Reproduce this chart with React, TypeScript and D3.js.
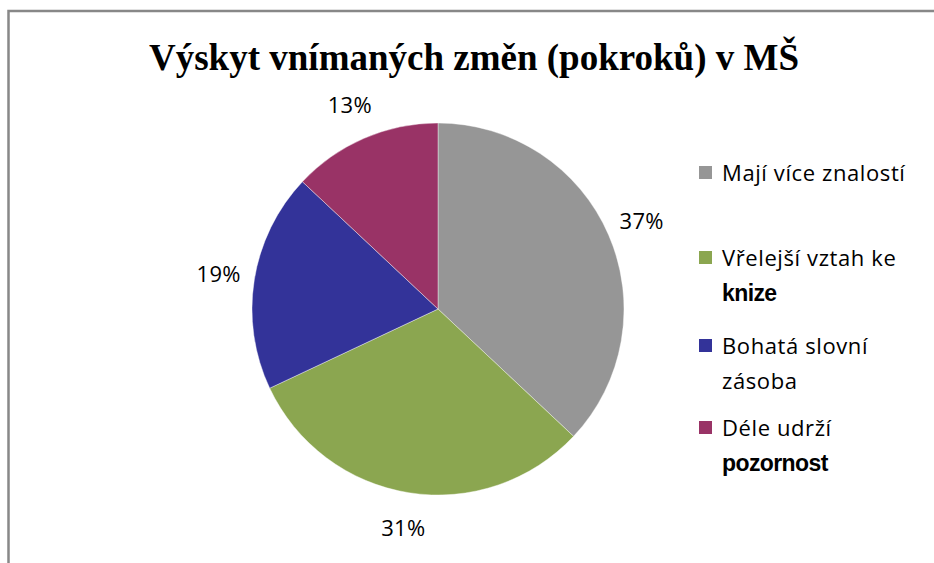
import React from "react";
import * as d3 from "d3";

// data
const categories = [
  "Mají více znalostí",
  "Vřelejší vztah ke knize",
  "Bohatá slovní zásoba",
  "Déle udrží pozornost",
];
const values = [37, 31, 19, 13];
const colors = ["#969696", "#8ba650", "#333399", "#993366"];
// how the legend wraps each category (second line is bold in the original)
const legendLines = [
  ["Mají více znalostí"],
  ["Vřelejší vztah ke", "knize"],
  ["Bohatá slovní", "zásoba"],
  ["Déle udrží", "pozornost"],
];
const boldSecondLine = [false, true, false, true];
const title = "Výskyt vnímaných změn (pokroků) v MŠ";

const width = 934;
const height = 563;

const App = () => {
  const cx = 438;
  const cy = 309;
  const radius = 186;

  const pie = d3
    .pie<number>()
    .value((d) => d)
    .sort(null);
  const slices = pie(values);

  const arc = d3.arc<d3.PieArcDatum<number>>().innerRadius(0).outerRadius(radius);
  const labelArc = d3
    .arc<d3.PieArcDatum<number>>()
    .innerRadius(222)
    .outerRadius(222);

  const total = d3.sum(values);
  const fmt = (v: number) => `${Math.round((v / total) * 100)}%`;

  const legendY = [181, 266, 354, 436]; // first-line baselines
  const lineGap = 35;

  return (
    <svg
      width={width}
      height={height}
      style={{ position: "absolute", left: 0, top: 0, background: "#fff" }}
    >
      <rect
        x={8.5}
        y={11}
        width={width + 20}
        height={height + 20}
        fill="#fff"
        stroke="#888"
        strokeWidth={2.5}
      />
      <text
        x={474}
        y={70}
        textAnchor="middle"
        fontFamily="'Liberation Serif', 'Times New Roman', serif"
        fontWeight="bold"
        fontSize={37}
        fill="#000"
      >
        {title}
      </text>

      <g transform={`translate(${cx},${cy})`}>
        {slices.map((s, i) => (
          <path
            key={categories[i]}
            d={arc(s) || ""}
            fill={colors[i]}
            stroke="#fff"
            strokeWidth={0.4}
          />
        ))}
        {slices.map((s, i) => {
          const [lx, ly] = labelArc.centroid(s);
          return (
            <text
              key={"l" + i}
              x={lx}
              y={ly}
              dy="0.35em"
              textAnchor="middle"
              fontFamily="'Open Sans', sans-serif"
              fontSize={22}
              letterSpacing={0.3}
              fill="#000"
            >
              {fmt(s.data)}
            </text>
          );
        })}
      </g>

      <g>
        {categories.map((c, i) => (
          <g key={c}>
            <rect
              x={699}
              y={legendY[i] - 15}
              width={13}
              height={13}
              fill={colors[i]}
            />
            {legendLines[i].map((line, j) => {
              const bold = j === 1 && boldSecondLine[i];
              return (
                <text
                  key={line}
                  x={722}
                  y={legendY[i] + j * lineGap}
                  fontFamily={
                    bold
                      ? "'Liberation Sans', Arial, sans-serif"
                      : "'Open Sans', sans-serif"
                  }
                  fontWeight={bold ? "bold" : "normal"}
                  fontSize={bold ? 23 : 22}
                  letterSpacing={bold ? -0.6 : 0.6}
                  fill="#000"
                >
                  {line}
                </text>
              );
            })}
          </g>
        ))}
      </g>
    </svg>
  );
};

export default App;
